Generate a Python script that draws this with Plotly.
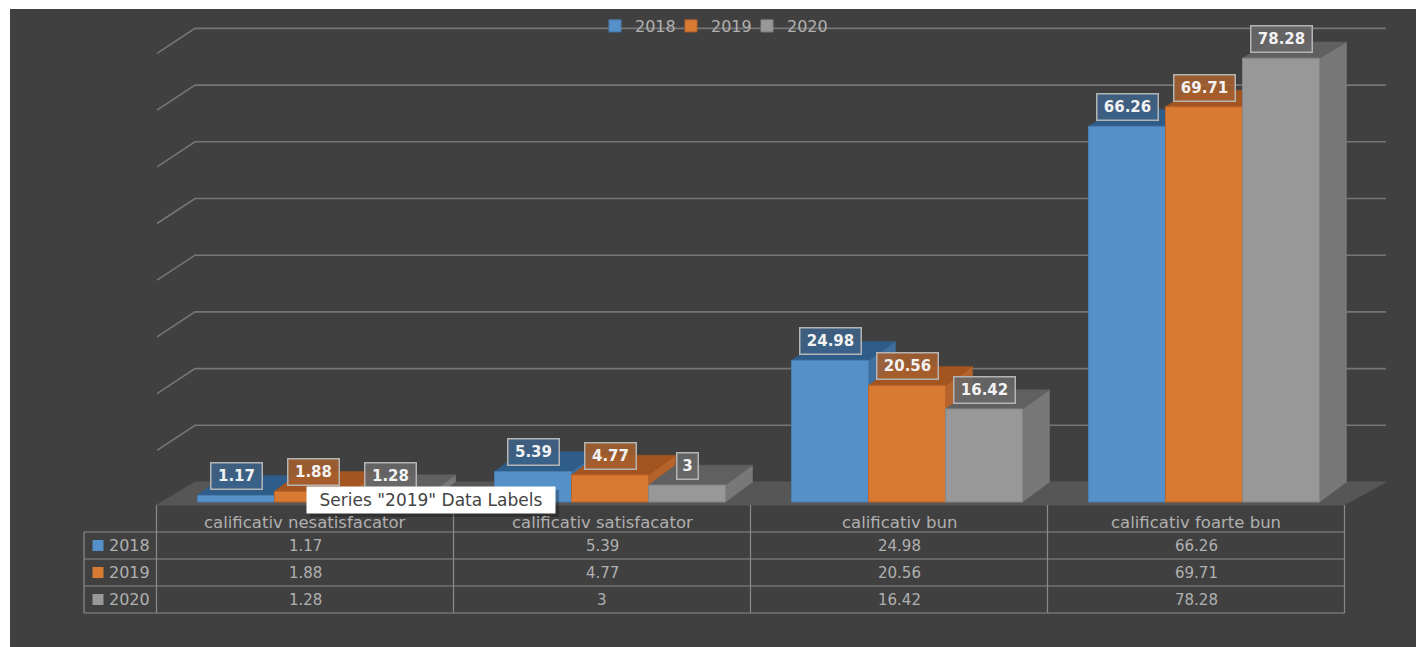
import plotly.graph_objects as go

# ---- data ----
CATEGORIES = ["calificativ nesatisfacator", "calificativ satisfacator", "calificativ bun", "calificativ foarte bun"]
SERIES = ["2018", "2019", "2020"]
V2018 = [1.17, 5.39, 24.98, 66.26]
V2019 = [1.88, 4.77, 20.56, 69.71]
V2020 = [1.28, 3, 16.42, 78.28]
GRID_VALUES = [0, 10, 20, 30, 40, 50, 60, 70, 80]
TOOLTIP = 'Series "2019" Data Labels'

VALUES = [V2018, V2019, V2020]
FRONT = ["#5590c8", "#d97a33", "#989898"]
EDGE = ["#4a7eb0", "#b9642a", "#858585"]
SIDE = ["#3f6f9e", "#b5632a", "#787878"]
TOP = ["#2f5d8a", "#a4541f", "#606060"]
LABEL_BG = ["rgba(60,98,135,0.88)", "rgba(165,95,45,0.88)", "rgba(104,104,104,0.88)"]
BG = "#404040"
GRID = "#767676"
FLOOR = "#565656"
TABLE = "#8a8a8a"
TEXT = "#b0b0b0"
FONT = "DejaVu Sans"

# ---- pixel <-> axis helpers (page geometry) ----
W, H = 1416, 647
ML, MT = 10, 9
CAT0, CATW = 305.0, 297.0
BASE, PXU = 502.0, 5.67
def X(px): return (px - CAT0) / CATW
def Y(px): return (BASE - px) / PXU
XR = [X(ML), X(W)]
YR = [Y(H), Y(MT)]
BAR_W = 77 / CATW
BAR_SHIFT = 8 / CATW
DEPTH_X = 27 / CATW
def depth_y(v): return (20 - 0.05 * v) / PXU
BACK = 20 / PXU

fig = go.Figure()

def back_trace(xs, ys, **kw):
    fig.add_trace(go.Scatter(x=xs, y=ys, xaxis="x", yaxis="y", showlegend=False, hoverinfo="skip", **kw))

# floor
back_trace([X(157), X(195), X(1386), X(1344), X(157)], [Y(505), Y(482), Y(482), Y(505), Y(505)],
           mode="lines", fill="toself", fillcolor=FLOOR, line=dict(color=FLOOR, width=1))
# wall grid
for g in GRID_VALUES[1:]:
    yb = g + BACK
    back_trace([X(157), X(195), X(1386)], [yb - 25 / PXU, yb, yb], mode="lines", line=dict(color=GRID, width=1.6))

def center(cat, s): return cat + BAR_SHIFT + (s - 1) * BAR_W

# 3D faces of each bar, behind the front faces
for s, vals in enumerate(VALUES):
    for c, v in enumerate(vals):
        xl, xr = center(c, s) - BAR_W / 2, center(c, s) + BAR_W / 2
        d = depth_y(v)
        back_trace([xr, xr + DEPTH_X, xr + DEPTH_X, xr, xr], [0, BACK, v + d, v, 0], mode="lines",
                   fill="toself", fillcolor=SIDE[s], line=dict(color=SIDE[s], width=0.5))
        back_trace([xl, xl + DEPTH_X, xr + DEPTH_X, xr, xl], [v, v + d, v + d, v, v], mode="lines",
                   fill="toself", fillcolor=TOP[s], line=dict(color=TOP[s], width=0.5))

# table grid
xb = [c - 0.5 for c in range(len(CATEGORIES) + 1)]
for px in [532, 559, 586, 613]:
    back_trace([X(84), xb[-1]], [Y(px), Y(px)], mode="lines", line=dict(color=TABLE, width=1.2))
for x in xb:
    back_trace([x, x], [Y(505), Y(613)], mode="lines", line=dict(color=TABLE, width=1.2))
back_trace([X(84), X(84)], [Y(532), Y(613)], mode="lines", line=dict(color=TABLE, width=1.2))

# table swatches
ROW_PX = [545.5, 572.5, 599.5]
for s in range(3):
    back_trace([X(98)], [Y(ROW_PX[s])], mode="markers", marker=dict(symbol="square", size=11, color=FRONT[s]))

# front faces: real bars on an overlaid axis pair so they sit on top of the faces
for s, vals in enumerate(VALUES):
    fig.add_trace(go.Bar(x=[center(c, s) for c in range(4)], y=vals, width=BAR_W, name=SERIES[s],
                         xaxis="x2", yaxis="y2", marker=dict(color=FRONT[s], line=dict(color=EDGE[s], width=1)),
                         hoverinfo="skip"))
# empty, invisible legend entry: only widens the legend box so "2020" is not clipped
fig.add_trace(go.Bar(x=[None], y=[None], name=" ", xaxis="x2", yaxis="y2",
                     marker=dict(color="rgba(0,0,0,0)", line=dict(width=0)), hoverinfo="skip"))

ann = []
# data labels
for s, vals in enumerate(VALUES):
    for c, v in enumerate(vals):
        t = f"{v:g}"
        ann.append(dict(x=center(c, s), y=v, yshift=19, text=f"<b>{t}</b>", showarrow=False,
                        font=dict(family=FONT, size=15, color="#f2f2f2"), bgcolor=LABEL_BG[s],
                        bordercolor="#b4b4b4", borderwidth=1.5, borderpad=4, width=10 * len(t) + 2, height=17))
# table text
for c, name in enumerate(CATEGORIES):
    ann.append(dict(x=c, y=Y(522), text=name, showarrow=False, font=dict(family=FONT, size=16.5, color=TEXT)))
    for s, vals in enumerate(VALUES):
        ann.append(dict(x=c, y=Y(ROW_PX[s]), text=f"{vals[c]:g}", showarrow=False,
                        font=dict(family=FONT, size=15, color=TEXT)))
for s, name in enumerate(SERIES):
    ann.append(dict(x=X(129.5), y=Y(ROW_PX[s]), text=name, showarrow=False,
                    font=dict(family=FONT, size=16, color=TEXT)))
# tooltip seen in the screenshot
ann.append(dict(x=X(431), y=Y(500), text=TOOLTIP, showarrow=False, font=dict(family=FONT, size=17, color="#444444"),
                bgcolor="#ffffff", borderpad=4, width=240, height=18))

axis = dict(visible=False, showgrid=False, zeroline=False, fixedrange=True)
fig.update_layout(
    width=W, height=H, margin=dict(l=ML, t=MT, r=0, b=0, pad=0, autoexpand=False),
    paper_bgcolor="#ffffff", plot_bgcolor=BG, barmode="overlay",
    xaxis=dict(range=XR, **axis), yaxis=dict(range=YR, **axis),
    xaxis2=dict(range=XR, overlaying="x", **axis), yaxis2=dict(range=YR, overlaying="y", **axis),
    annotations=ann,
    shapes=[dict(type="rect", xref="x", yref="y", x0=X(310), x1=X(559), y0=Y(490), y1=Y(517), layer="above",
                 fillcolor="rgba(0,0,0,0.25)", line=dict(width=0))],
    legend=dict(orientation="h", x=(595 - ML) / (W - ML), y=1 - (26 - MT) / (H - MT), xanchor="left", yanchor="middle",
                bgcolor="rgba(0,0,0,0)", font=dict(family=FONT, size=16, color=TEXT),
                entrywidth=31, entrywidthmode="pixels", itemclick=False, itemdoubleclick=False),
    showlegend=True,
)

fig.write_html("out.html", config=dict(displayModeBar=False),
               post_script="document.body.style.margin='0';document.body.style.overflow='hidden';")
